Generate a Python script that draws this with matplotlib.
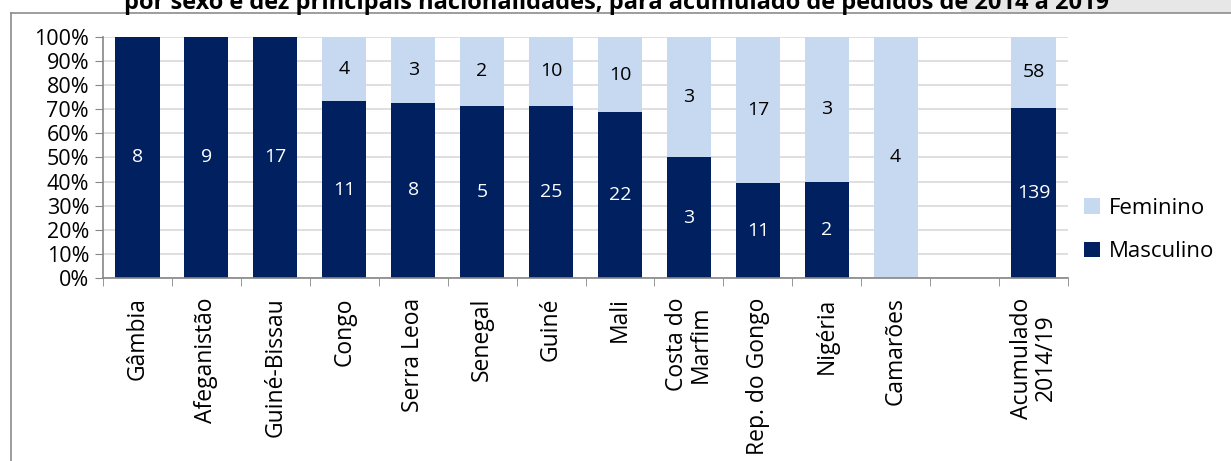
import numpy as np
import matplotlib.pyplot as plt
from matplotlib.patches import Polygon

plt.rcParams['font.family'] = ['Open Sans', 'DejaVu Sans']

# dados
paises = ['Gâmbia', 'Afeganistão', 'Guiné-Bissau', 'Congo', 'Serra Leoa', 'Senegal',
          'Guiné', 'Mali', 'Costa do\nMarfim', 'Rep. do Gongo', 'Nigéria', 'Camarões',
          '', 'Acumulado\n2014/19']
masculino = [8, 9, 17, 11, 8, 5, 25, 22, 3, 11, 2, 0, 0, 139]
feminino = [0, 0, 0, 4, 3, 2, 10, 10, 3, 17, 3, 4, 0, 58]
titulo = 'por sexo e dez principais nacionalidades, para acumulado de pedidos de 2014 a 2019'

cor_masc = '#002060'
cor_fem = '#c6d9f1'

W, H = 1231, 461
fig = plt.figure(figsize=(W / 100, H / 100), dpi=100)

# faixa do titulo
fig.patches.append(Polygon([(955 / W, 1), (W / W, 1), (1, 1 - 13 / H), (962 / W, 1 - 13 / H)],
                           closed=True, transform=fig.transFigure, facecolor='#e7e7e7',
                           edgecolor='none', zorder=0))
fig.lines.append(plt.Line2D([11 / W, 1], [1 - 13 / H, 1 - 13 / H], transform=fig.transFigure,
                            color='#8c8c8c', lw=1.2))
fig.lines.append(plt.Line2D([11 / W, 11 / W], [0, 1 - 13 / H], transform=fig.transFigure,
                            color='#8c8c8c', lw=1.2))
fig.text(617 / W, 1 - 9 / H, titulo, ha='center', va='baseline', fontsize=17,
         fontweight='bold')

ax = fig.add_axes([103 / W, 1 - 278 / H, (1068 - 103) / W, (278 - 37) / H])

masc = np.array(masculino, dtype=float)
fem = np.array(feminino, dtype=float)
tot = masc + fem
tot_safe = np.where(tot == 0, 1, tot)
pm = np.where(tot == 0, 0, masc / tot_safe)
pf = np.where(tot == 0, 0, fem / tot_safe)

x = np.arange(len(paises))
largura = 0.64
b1 = ax.bar(x, pm, largura, color=cor_masc, label='Masculino', zorder=2)
b2 = ax.bar(x, pf, largura, bottom=pm, color=cor_fem, label='Feminino', zorder=2)

for i in range(len(paises)):
    if masc[i] > 0:
        ax.text(x[i], pm[i] / 2, str(int(masc[i])), ha='center', va='center',
                color='white', fontsize=14, zorder=3)
    if fem[i] > 0:
        ax.text(x[i], pm[i] + pf[i] / 2, str(int(fem[i])), ha='center', va='center',
                color='black', fontsize=14, zorder=3)

ax.set_xlim(-0.5, len(paises) - 0.5)
ax.set_ylim(0, 1)
ax.set_yticks(np.arange(0, 1.01, 0.1))
ax.set_yticklabels(['%d%%' % v for v in range(0, 101, 10)], fontsize=15.5)
ax.set_xticks(x)
ax.set_xticklabels(paises, rotation=90, fontsize=16.5, multialignment='center',
                   linespacing=1.0)
ax.tick_params(axis='x', which='major', length=0, pad=14)
ax.set_xticks(np.arange(-0.5, len(paises), 1), minor=True)
ax.tick_params(axis='x', which='minor', length=6, color='#868686', direction='out')
ax.tick_params(axis='y', length=6, color='#868686', pad=4)
ax.grid(axis='y', color='#d9d9d9', lw=1.2, zorder=0)
ax.set_axisbelow(True)
for s in ['top', 'right']:
    ax.spines[s].set_visible(False)
for s in ['left', 'bottom']:
    ax.spines[s].set_color('#868686')
    ax.spines[s].set_linewidth(1.2)

leg = fig.legend(handles=[b2, b1], labels=['Feminino', 'Masculino'], loc='center left',
                 bbox_to_anchor=(1084 / W, 1 - 230 / H), frameon=False, fontsize=16,
                 handlelength=0.7, handleheight=0.7, handletextpad=0.4, labelspacing=1.0,
                 borderpad=0, borderaxespad=0)

fig.savefig('out.png', dpi=100)
